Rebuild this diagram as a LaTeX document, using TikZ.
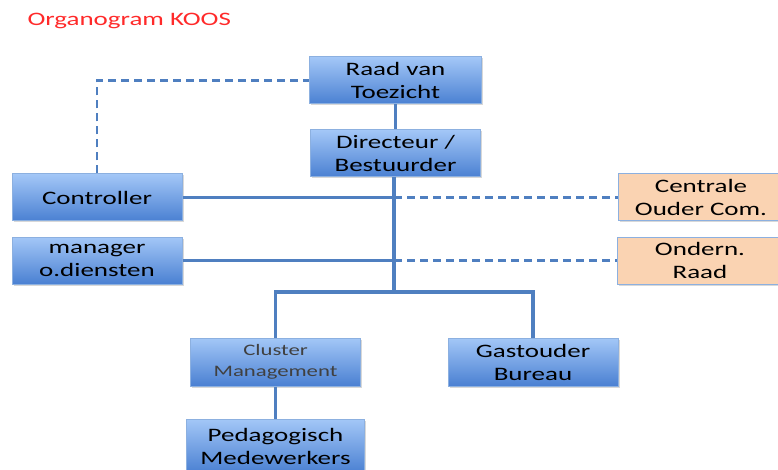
\documentclass[tikz,border=0pt]{standalone}
\usepackage{fontspec}
\setmainfont{Carlito}
\newfontfamily\boxfont{Carlito}[FakeStretch=1.42]
\usetikzlibrary{shadows}
\definecolor{lineblue}{HTML}{4F7FC0}
\definecolor{boxedge}{HTML}{8CB0E0}
\definecolor{boxtop}{HTML}{A3C7F7}
\definecolor{boxbot}{HTML}{4A80D2}
\definecolor{orangefill}{HTML}{FAD3B2}
\definecolor{titlered}{HTML}{FF2A2A}
\tikzset{
  orgbox/.style={draw=boxedge, line width=1pt, top color=boxtop, bottom color=boxbot,
    minimum width=170pt, minimum height=47pt, align=center, inner sep=0pt,
    text=black, font=\boxfont\fontsize{19}{23}\selectfont,
    drop shadow={shadow xshift=1.5pt, shadow yshift=-1.5pt, fill=black!30}},
  sidebox/.style={draw=boxedge, line width=1pt, fill=orangefill,
    minimum width=166pt, minimum height=47pt, align=center, inner sep=0pt,
    text=black, font=\boxfont\fontsize{19}{23}\selectfont,
    drop shadow={shadow xshift=1.5pt, shadow yshift=-1.5pt, fill=black!30}},
  solidlink/.style={draw=lineblue, line width=3.2pt},
  dashlink/.style={draw=lineblue, line width=2.6pt, dash pattern=on 8pt off 5pt}
}
\begin{document}
\begin{tikzpicture}[x=1pt,y=-1pt]
\useasboundingbox (0,0) rectangle (778,470);
\fill[white] (0,0) rectangle (778,470);

\node[text=titlered, font=\boxfont\fontsize{19}{22}\selectfont, anchor=west] (title) at (24,21) {Organogram KOOS};

\node[orgbox, minimum width=172pt] (raad) at (395.5,80.5) {Raad van\\Toezicht};
\node[orgbox] (dir) at (395.5,153.5) {Directeur /\\Bestuurder};
\node[orgbox] (ctrl) at (97,197.5) {Controller};
\node[orgbox] (mgr) at (97,260.5) {manager\\o.diensten};
\node[sidebox] (cent) at (701,197.5) {Centrale\\Ouder Com.};
\node[sidebox] (ond) at (700,260.5) {Ondern.\\Raad};
\node[orgbox, minimum height=48pt, text=black!75, font=\boxfont\fontsize{16}{21}\selectfont] (clus) at (275.5,362) {Cluster\\Management};
\node[orgbox, minimum height=48pt] (gast) at (533,362) {Gastouder\\Bureau};
\node[orgbox, minimum width=178pt, minimum height=54pt] (ped) at (275.5,446) {Pedagogisch\\Medewerkers};

\coordinate (junc) at (394,292);

\draw[solidlink] (raad.south) -- (dir.north);
\draw[solidlink] (dir.south -| junc) -- (junc);
\draw[solidlink] (clus.north) |- (junc) -| (gast.north);
\draw[solidlink] (clus.south) -- (ped.north);
\draw[solidlink] (ctrl.east) -- (ctrl.east -| junc);
\draw[solidlink] (mgr.east) -- (mgr.east -| junc);
\draw[dashlink] (ctrl.east -| junc) -- (cent.west);
\draw[dashlink] (mgr.east -| junc) -- (ond.west);
\draw[dashlink] (ctrl.north) |- (raad.west);
\end{tikzpicture}
\end{document}
